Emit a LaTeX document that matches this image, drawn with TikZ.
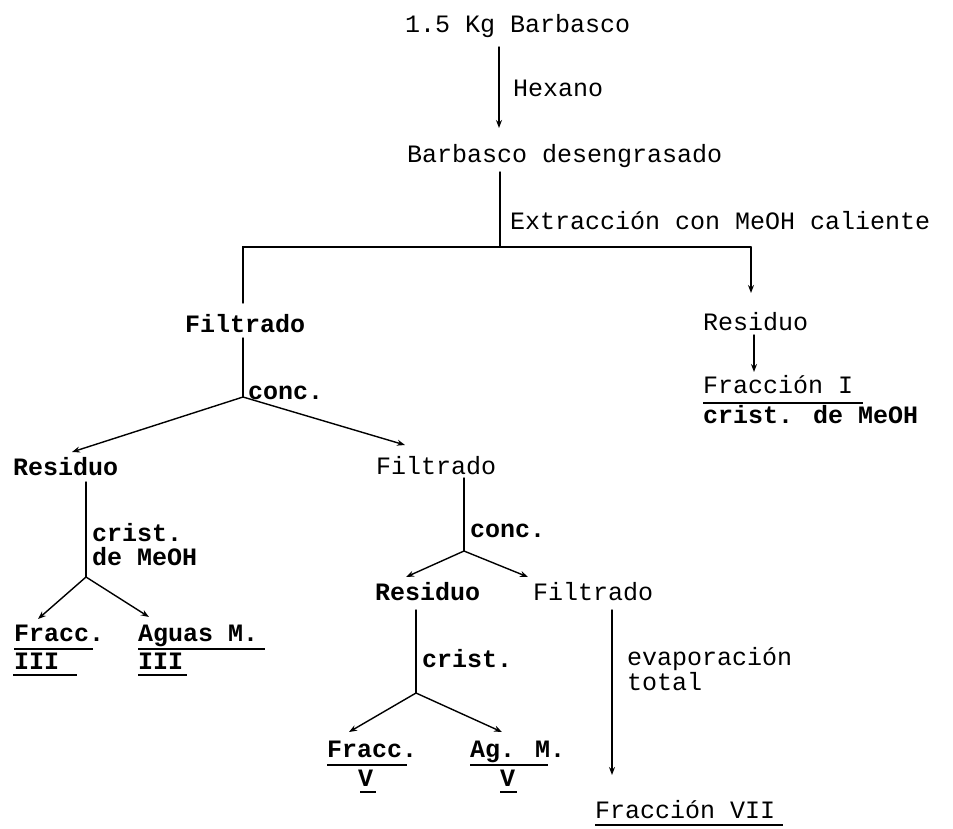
\documentclass[tikz,border=0pt]{standalone}
\usepackage{fontspec}
\newfontfamily\tw{Liberation Mono}
\usetikzlibrary{arrows.meta}
\begin{document}
\begin{tikzpicture}[x=1pt,y=-1pt,
  txt/.style={anchor=base west,inner sep=0pt,font=\tw\fontsize{25}{28}\selectfont},
  btxt/.style={txt,font=\tw\bfseries\fontsize{25}{28}\selectfont},
  ln/.style={line width=1.4pt,line cap=round},
  arr/.style={ln,-{Stealth[length=8pt,width=6pt]}},
  ul/.style={line width=1.3pt}]
\useasboundingbox (0,0) rectangle (953,828);
% texts
\node[txt] (top) at (405,32) {1.5 Kg Barbasco};
\node[txt] (hex) at (513,96) {Hexano};
\node[txt] (bd) at (407,162) {Barbasco desengrasado};
\node[txt] (ext) at (510,229) {Extracción con MeOH caliente};
\node[btxt] (f1) at (185,332) {Filtrado};
\node[btxt] (c1) at (248,399) {conc.};
\node[txt] (r1) at (703,330) {Residuo};
\node[txt] (fI) at (703,393) {Fracción I};
\node[btxt] (cI) at (703,423) {crist. de MeOH};
\node[btxt] (r2) at (13,475) {Residuo};
\node[txt] (f2) at (376,474) {Filtrado};
\node[btxt] (k2a) at (92,541) {crist.};
\node[btxt] (k2b) at (92,565) {de MeOH};
\node[btxt] (c2) at (470,537) {conc.};
\node[btxt] (r3) at (375,600) {Residuo};
\node[txt] (f3) at (533,600) {Filtrado};
\node[btxt] (k3) at (422,667) {crist.};
\node[txt] (ev1) at (627,665) {evaporación};
\node[txt] (ev2) at (627,690) {total};
\node[btxt] (fr3) at (14,641) {Fracc.};
\node[btxt] (fr3b) at (14,669) {III};
\node[btxt] (ag3) at (138,641) {Aguas M.};
\node[btxt] (ag3b) at (138,669) {III};
\node[btxt] (fr5) at (327,757) {Fracc.};
\node[btxt] (fr5b) at (358,786) {V};
\node[btxt] (ag5) at (470,757) {Ag. M.};
\node[btxt] (ag5b) at (500,786) {V};
\node[txt] (fr7) at (595,818) {Fracción VII};
% underlines
\draw[ul] (703,403) -- (863,403);
\draw[ul] (14,649) -- (93,649);
\draw[ul] (13,675) -- (77,675);
\draw[ul] (138,649) -- (265,649);
\draw[ul] (138,675) -- (187,675);
\draw[ul] (327,765) -- (407,765);
\draw[ul] (360,792) -- (376,792);
\draw[ul] (470,765) -- (548,765);
\draw[ul] (500,792) -- (517,792);
\draw[ul] (595,825) -- (783,825);
% junction coordinates
\coordinate (a1) at (499,47);  \coordinate (a2) at (499,128);
\coordinate (b1) at (500,172); \coordinate (j1) at (500,247);
\coordinate (hl) at (243,247); \coordinate (hr) at (751,247);
\coordinate (hle) at (243,303); \coordinate (hre) at (751,293);
\coordinate (p1) at (754,335); \coordinate (p2) at (754,372);
\coordinate (q1) at (243,338); \coordinate (j2) at (243,397);
\coordinate (j2l) at (72,452); \coordinate (j2r) at (405,445);
\coordinate (s1) at (86,482); \coordinate (j3) at (86,577);
\coordinate (j3l) at (38,619); \coordinate (j3r) at (149,617);
\coordinate (t1) at (464,478); \coordinate (j4) at (464,551);
\coordinate (j4l) at (406,577); \coordinate (j4r) at (528,577);
\coordinate (u1) at (416,610); \coordinate (j5) at (416,693);
\coordinate (j5l) at (349,732); \coordinate (j5r) at (502,732);
\coordinate (v1) at (612,610); \coordinate (v2) at (612,775);
% connectors
\draw[arr] (a1) -- (a2);
\draw[ln] (b1) -- (j1);
\draw[ln] (hle) -- (hl) -- (hr);
\draw[arr] (hr) -- (hre);
\draw[arr] (p1) -- (p2);
\draw[ln] (q1) -- (j2);
\draw[arr] (j2) -- (j2l);
\draw[arr] (j2) -- (j2r);
\draw[ln] (s1) -- (j3);
\draw[arr] (j3) -- (j3l);
\draw[arr] (j3) -- (j3r);
\draw[ln] (t1) -- (j4);
\draw[arr] (j4) -- (j4l);
\draw[arr] (j4) -- (j4r);
\draw[ln] (u1) -- (j5);
\draw[arr] (j5) -- (j5l);
\draw[arr] (j5) -- (j5r);
\draw[arr] (v1) -- (v2);
\end{tikzpicture}
\end{document}
